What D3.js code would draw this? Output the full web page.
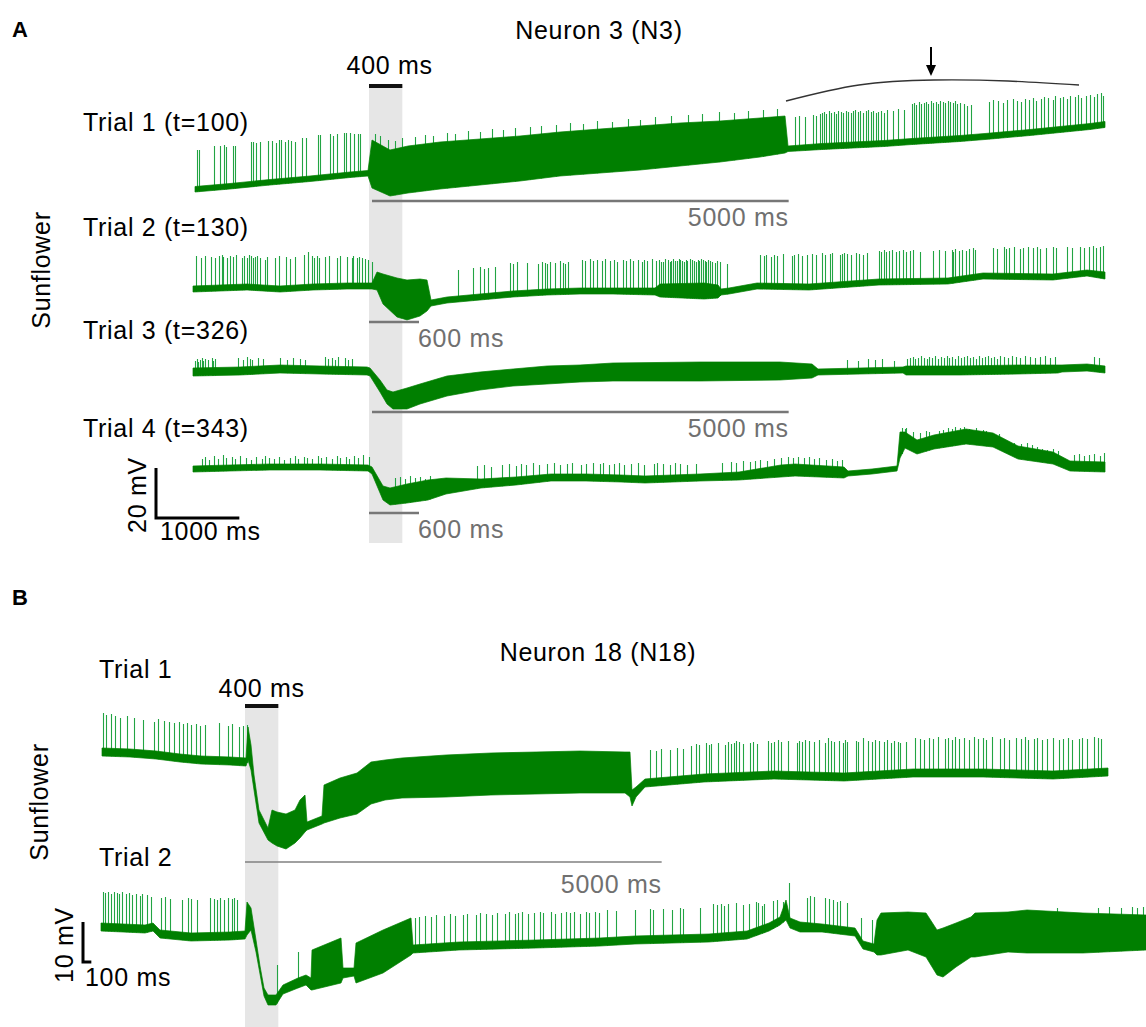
<!DOCTYPE html>
<html>
<head>
<meta charset="utf-8">
<script src="https://cdn.jsdelivr.net/npm/d3@7"></script>
<style>
  html, body { margin: 0; padding: 0; background: #fff; }
  svg text { font-family: "Liberation Sans", Arial, Helvetica, sans-serif; }
</style>
</head>
<body>
<svg id="fig" width="1146" height="1027"></svg>
<script>
// ---------------------------------------------------------------
// Data. Times in ms relative to stimulus onset, voltages in mV
// relative to the resting level at the start of each trial.
// Envelopes: [t, lower edge, upper edge of the trace band]
// Spikes:    [t, peak]
// ---------------------------------------------------------------
const stimMs = 400;

// Neuron 3 (N3)
const n3Labels = ["Trial 1 (t=100)", "Trial 2 (t=130)", "Trial 3 (t=326)", "Trial 4 (t=343)"];

const n3t1Env = [
  [-2088,-0.8,1.4],[-1668,0.4,2.6],[-1188,2,4.2],[-708,3.4,5.6],[-228,5,7.2],[-12,5.6,7.8],
  [36,0.8,20],[252,-2.4,16],[468,-1.2,17.6],[852,0.4,19.2],[1332,2,20.4],[1812,3.6,21.6],
  [2292,5.6,23.2],[2772,6.8,24.4],[3252,8,25.6],[3732,9.6,26.8],[4212,11.2,27.6],[4692,13.2,28.8],
  [4992,14.8,29.6],[5028,15.4,17.6],[5436,16.2,18.6],[6180,17.4,19.8],[6516,18.2,20.6],[7092,19.4,21.8],
  [7392,20.2,22.6],[7932,21.8,24.2],[8292,23,25.4],[8652,24.2,26.6],[8832,25,27.4]
];
const n3t1Spikes = [
  [-2064,16],[-2040,16],[-1860,17.6],[-1788,17.6],[-1740,18],[-1716,17.2],[-1632,17.6],[-1608,17.6],
  [-1416,19.2],[-1392,19.2],[-1356,18.8],[-1308,19.2],[-1212,19.6],[-1164,19.6],[-1116,18.8],[-1080,20],
  [-1056,20],[-1008,19.2],[-972,20],[-936,19.6],[-888,19.2],[-804,20.8],[-756,20.8],[-612,22],
  [-588,22],[-468,22.4],[-432,21.6],[-384,22.4],[-300,22.8],[-276,22.8],[-228,22.8],[-180,22.4],
  [-132,22.4],[-108,22.4],
  [72,22.4],[132,21.6],[228,20],[312,19.6],[396,20.8],[552,21.2],[672,22],[768,21.6],
  [936,22.8],[1032,22.4],[1188,23.6],[1332,23.2],[1476,24.4],[1608,24],[1752,24.8],[1932,25.2],
  [2064,25.6],[2244,26],[2412,26.8],[2568,26.4],[2736,27.6],[2916,27.2],[3108,28.4],[3252,28],
  [3432,29.2],[3624,29.6],[3828,30],[3996,30.4],[4200,31.2],[4380,30.8],[4548,31.6],[4728,32],
  [4896,32.4],
  [5112,29.2],[5160,29.6],[5232,29.2],[5328,30],[5364,29.6],[5412,30.4],
  [5436,30.8],[5460,31.2],[5484,30.4],[5520,31.6],[5544,30.8],[5580,31.2],[5604,30.4],[5628,31.6],
  [5664,31.2],[5688,30.8],[5724,31.6],[5748,31.2],[5784,30.8],[5808,31.6],[5832,32],[5868,31.2],
  [5892,31.6],[5928,30.8],[5964,31.6],[5988,32],[6024,31.2],[6048,31.6],[6084,30.8],[6108,31.2],
  [6144,31.6],[6180,30.8],
  [6216,32],[6288,31.6],[6348,32.4],[6420,32],
  [6516,34.4],[6540,34.8],[6564,34],[6600,35.2],[6624,34.4],[6660,34.8],[6684,35.2],[6708,34.4],
  [6744,35.6],[6768,34.8],[6804,35.2],[6828,34.4],[6852,35.6],[6888,35.2],[6912,34.8],[6948,35.6],
  [6972,35.2],[7008,34.8],[7032,35.6],[7056,34.4],[7092,34.8],
  [7140,34.4],[7176,33.6],[7224,34],[7440,35.2],[7488,36],[7548,35.6],
  [7608,34.8],[7656,36],[7728,36.4],[7776,35.6],[7824,35.2],[7872,36.4],[7920,36],[7968,36.8],
  [8004,35.6],[8064,36.4],[8100,37.2],[8148,36.8],[8208,36],[8232,37.6],[8292,36.8],[8328,37.2],
  [8376,36.4],[8412,37.6],[8472,37.2],[8508,38],[8544,36.8],[8604,37.6],[8652,38],[8700,37.2],
  [8736,38.4],[8784,38.8],[8808,37.6]
];

const n3t2Env = [
  [-2112,-0.8,1.6],[-1464,0,2.4],[-1068,-0.8,1.6],[-672,0,2.4],[-264,0.4,2.8],[36,0.4,2.8],
  [96,0,7.2],[168,-5.6,6.4],[336,-10.8,4.8],[456,-12,4],[612,-10.4,4.4],[696,-8.4,4],
  [744,-6.4,-4],[936,-5.2,-2.8],[1332,-4,-1.6],[1728,-2.8,-0.4],[2136,-2,0.4],[2532,-1.6,0.8],
  [2928,-1.6,0.8],[3432,-2,0.8],[3492,-2.8,2.4],[4020,-3.6,2.8],[4188,-3.2,2],[4224,-2,0.4],
  [4320,-1.6,0.8],[4656,0.4,2.8],[5280,0,2.4],[6120,2,4.4],[6948,2.4,4.8],[7368,4.4,6.8],
  [8208,4,6.4],[8616,5.6,8],[8832,4.4,7.2]
];
const n3t2Spikes = [
  [-2076,13.6],[-2016,12.8],[-1968,13.6],[-1896,13.2],[-1848,12.8],[-1800,13.6],[-1764,14],[-1752,13.2],
  [-1704,12.8],[-1668,13.6],[-1632,13.2],[-1596,14],[-1524,12.8],[-1500,13.6],[-1464,12.8],[-1440,14],
  [-1416,13.6],[-1392,12.8],[-1368,13.2],[-1344,13.6],[-1308,12.8],[-1248,12],[-1224,13.2],[-1128,12.8],
  [-1080,13.6],[-996,13.2],[-948,12.4],[-888,13.2],[-780,14],[-732,15.2],[-684,13.6],[-660,12.8],
  [-624,13.6],[-600,12.8],[-528,13.2],[-480,13.6],[-384,12.8],[-348,13.6],[-264,13.2],[-204,12.8],
  [-192,13.6],[-144,12.8],[-120,13.2],[-84,12.8],[-48,12.4],[-12,12],[36,11.2],
  [1068,8],[1248,8.8],[1332,9.2],[1380,8.4],[1428,8.8],[1512,9.2],[1692,10.8],[1728,10.4],
  [1776,11.2],[1896,10.8],[2028,10.4],[2076,11.2],[2112,10.8],[2136,10.4],[2172,11.2],[2232,10.8],
  [2292,11.6],[2328,10.8],[2352,10.4],[2388,11.2],[2556,12],[2592,11.6],[2652,12.4],[2688,11.6],
  [2736,12],[2796,11.6],[2832,12.4],[2892,11.6],[2940,12],[2976,11.2],[3048,12],[3084,11.6],
  [3132,12.4],[3168,11.6],[3228,12],[3276,11.2],[3300,12],[3336,11.6],[3396,12.4],[3444,11.6],
  [3480,12],[3504,11.2],[3528,11.2],[3552,12.4],[3588,12],[3612,11.2],[3624,11.6],[3648,12.4],
  [3672,11.6],[3696,11.6],[3720,12.4],[3732,12],[3756,11.6],[3780,11.2],[3804,12],[3816,11.6],
  [3852,12.4],[3876,12],[3900,11.6],[3924,11.2],[3948,12],[3960,11.6],[3984,12.4],[4008,12],
  [4032,11.6],[4044,11.2],[4068,12],[4092,11.6],[4116,11.2],[4152,10.8],[4176,11.6],
  [4212,11.2],[4296,10.4],
  [4692,14],[4740,13.6],[4764,14],[4824,13.2],[4860,14],[4896,13.6],[4968,14.4],[5076,13.6],
  [5100,14],[5148,14.4],[5196,13.6],[5256,14],[5316,14.4],[5364,14],[5436,14.8],[5472,14],
  [5532,14.4],[5556,14.8],[5652,14],[5676,14.4],[5700,14.8],[5736,14.4],[5784,14],[5844,14.8],
  [5880,14.4],[5928,14],[5976,14.8],[6120,15.6],[6144,15.2],[6180,16],[6204,15.2],[6240,15.6],
  [6276,16],[6324,15.2],[6360,15.6],[6408,16],[6444,15.2],[6492,15.6],[6528,16],[6612,15.2],
  [6768,15.6],[6840,16],[6912,15.6],[6996,16],[7008,15.2],[7032,16.4],[7080,15.6],[7116,16],
  [7164,15.6],[7200,16.4],[7248,16.8],[7272,16],[7488,16.8],[7536,16.4],[7620,17.2],[7644,16.4],
  [7680,16.8],[7740,17.2],[7812,16.4],[7848,16.8],[7908,17.2],[7968,16.8],[8016,17.2],[8052,16.4],
  [8124,16.8],[8208,17.2],[8244,16.8],[8376,17.2],[8436,16.8],[8532,17.2],[8580,16.8],[8640,17.2],
  [8688,17.6],[8724,16.8],[8772,17.2],[8808,17.6]
];

const n3t3Env = [
  [-2112,-1.6,1.6],[-1548,-1.2,2],[-1068,-0.4,2.8],[-588,-0.8,2.4],[-24,-1.2,2],[12,-1.6,1.6],
  [132,-8,-3.2],[216,-12.8,-7.2],[288,-14.8,-8],[456,-14.8,-6.4],[612,-12.8,-4.8],[936,-9.6,-1.6],
  [1332,-7.2,0],[1728,-5.6,1.2],[2136,-4.8,2.4],[2532,-4,2.8],[2928,-3.6,3.6],[3972,-3.6,4],
  [4932,-3.2,4],[5316,-2.4,3.2],[5388,-1.2,1.2],[5892,-0.8,1.6],[6408,-0.4,2],[6444,-1.2,2.4],
  [7092,-1.2,2.4],[7788,-0.8,2.8],[8268,-0.4,2.8],[8316,0,2.8],[8616,0.4,3.2],[8832,-0.4,2.4]
];
const n3t3Spikes = [
  [-2088,4.4],[-2064,5.2],[-2052,4],[-2028,4.8],[-2004,5.6],[-1992,4.4],[-1968,5.2],[-1932,4.8],
  [-1884,5.6],[-1872,4.4],[-1848,5.2],[-1572,5.6],[-1512,4.8],[-1464,6],[-1428,5.2],[-1404,4.8],
  [-1332,5.6],[-1272,5.2],[-1068,5.6],[-984,4.8],[-912,5.6],[-828,5.2],[-768,4.8],[-528,6],
  [-492,5.2],[-444,5.6],[-408,4.8],[-372,6],[-288,5.6],[-252,4.8],[-204,5.2],
  [5736,4.8],[5868,4.4],[5988,5.2],[6072,4.8],[6156,5.2],[6300,4.4],
  [6456,5.2],[6492,5.6],[6528,6],[6552,5.2],[6588,5.6],[6624,6.4],[6660,5.6],[6696,5.2],
  [6720,6],[6756,5.6],[6792,6.4],[6828,5.2],[6864,6],[6900,5.6],[6936,6.4],[6960,5.6],
  [6996,6],[7032,5.2],[7068,6.4],[7104,5.6],[7140,6],[7176,6.4],[7212,5.6],[7248,6],
  [7284,5.2],[7320,6.4],[7356,5.6],[7392,6],[7428,6.4],[7464,5.6],[7500,6],[7536,5.2],
  [7572,6.4],[7620,6],[7668,5.6],[7716,6.4],[7764,6],[7812,5.6],[7872,6.4],[7932,6],
  [7992,5.6],[8052,6],[8112,6.4],[8172,5.6],[8232,6],
  [8700,6],[8760,5.6]
];

const n3t4Env = [
  [-2112,-0.8,1.6],[-1668,-0.4,2],[-1188,0,2.4],[-588,0,2.4],[-12,-0.4,2],[36,-1.6,1.2],
  [168,-12,-6.4],[252,-14,-7.2],[456,-13.2,-5.6],[708,-12,-4],[924,-9.6,-3.2],[1344,-7.2,-3.6],
  [1764,-6,-2.8],[2184,-4.4,-1.6],[2604,-4.4,-1.6],[3024,-4.8,-2],[3312,-5.2,-2.4],[3972,-4.4,-1.6],
  [4440,-4,-0.8],[4944,-2.8,2],[5112,-2.4,2.4],[5700,-3.2,1.2],[5748,-2.4,-0.4],[6036,-1.6,0.4],
  [6336,-0.4,1.6],[6372,4.8,15.2],[6432,8.8,15.2],[6576,6.4,12],[6780,8.4,14],[7164,10.4,16.4],
  [7488,9.2,14.8],[7788,4.4,9.6],[8208,2.4,7.2],[8412,-0.4,3.6],[8832,-0.8,3.2]
];
const n3t4Spikes = [
  [-2004,4.4],[-1968,5.2],[-1920,4],[-1860,5.6],[-1812,4.4],[-1752,6],[-1716,4.8],[-1644,5.2],
  [-1608,4.4],[-1548,5.6],[-1476,4.8],[-1416,4],[-1356,5.2],[-1284,4.4],[-1248,5.6],[-1200,4.8],
  [-1140,4.4],[-1080,5.2],[-1020,4],[-948,4.8],[-888,5.6],[-852,4.4],[-780,5.2],[-744,4.8],
  [-684,4.4],[-612,5.6],[-576,4.8],[-516,5.2],[-444,4.4],[-384,5.6],[-348,4.8],[-276,5.2],
  [-240,4.4],[-180,5.6],[-132,4.8],[-72,6],[0,5.2],
  [312,-3.2],[372,-2.8],[432,-3.6],[492,-2.4],[552,-3.2],[612,-2.8],[672,-3.6],[732,-2.4],
  [1296,1.6],[1380,2],[1464,1.2],[1596,2],[1680,2.4],[1764,1.6],[1824,2.4],[1884,2],
  [1968,2.8],[2040,2],[2136,2.4],[2220,2.8],[2292,2],[2376,2.4],[2436,2.8],[2544,2],
  [2604,2.4],[2688,2.8],[2772,2.4],[2808,2.8],[2880,2],[2940,2.4],[3000,2.8],[3060,2],
  [3144,2.4],[3228,2.8],[3300,2],[3420,2.4],[3456,2.8],[3528,2.4],[3612,2],[3672,2.8],
  [3732,2.4],[3816,2],[3924,2.4],[4236,2.8],[4344,3.2],[4404,2.8],[4488,3.6],[4572,3.2],
  [4632,3.6],[4692,4],[4776,3.6],[4860,4.4],[4944,4.8],[5028,5.2],[5088,4.8],[5148,5.2],
  [5220,4.8],[5280,5.2],[5340,4.4],[5400,4.8],[5484,4],[5556,4.4],[5616,3.6],[5676,4],
  [6396,16.8],[6432,16.4],[6444,16.8],[6528,15.2],[6612,14.8],[6684,15.6],[6720,15.2],[6840,15.6],
  [6888,16],[6948,16.8],[6996,16.4],[7032,17.2],[7092,16.8],[7140,17.2],[7200,16.4],[7284,16.8],
  [7368,16],[7404,15.6],[7476,14.8],[7560,14.4],[7620,12],[7680,11.2],[7740,10.8],[7824,10.4],
  [7896,10.8],[7956,10],[8016,9.2],[8076,8.4],[8136,8],[8208,8.4],[8268,7.6],[8460,6],
  [8520,6.4],[8580,5.6],[8640,6],[8700,6.4],[8772,5.6],[8820,6.8]
];

// Gray duration bars under N3 trials: [trial index, start ms, duration ms]
const n3DurBars = [[0, 36, 5000], [1, 0, 600], [2, 36, 5000], [3, 0, 600]];
const n3DurLabels = ["5000 ms", "600 ms", "5000 ms", "600 ms"];

// Bracket over the late part of trial 1 and the arrow above it: [t, mV]
const n3Bracket = [[5004,35.6],[5880,42],[6780,44],[7668,43.6],[8520,42]];
const n3Arrow = [[6744,57.2],[6744,45.6]];

// Neuron 18 (N18)
const n18Labels = ["Trial 1", "Trial 2"];

const n18t1Env = [
  [-1716,-1,1],[-1380,-1.25,0.75],[-1068,-1.75,0.25],[-780,-2.5,-0.5],[-528,-3,-1],[-180,-3.25,-1.25],
  [12,-3.5,-1.5],[36,-2,6.25],[72,-4.5,1.75],[108,-9.5,-5.75],[168,-17.75,-14.5],[276,-22,-19],
  [324,-22.75,-14.5],[384,-23.5,-15],[492,-24.25,-15.5],[600,-22.75,-14.5],[660,-21.5,-12],
  [720,-20,-10.75],[744,-19.5,-17.5],[924,-18,-16],[948,-17.75,-8.25],[1140,-16.5,-6.5],
  [1344,-15.5,-5.25],[1512,-13,-2.5],[1680,-12,-2],[1884,-11.5,-1.5],[2412,-11.25,-0.75],
  [2952,-10.75,-0.25],[3492,-10.5,0],[4020,-10.25,0.25],[4560,-10.25,0],[4620,-11.25,0],
  [4644,-13.5,-9.5],[4692,-11.25,-8.75],[4800,-8.75,-6.75],[5508,-7.5,-5.5],[6348,-6.75,-4.75],
  [7188,-7.25,-5.25],[8016,-6.25,-4.25],[8856,-6.25,-4.25],[9696,-6.75,-4.75],[10356,-6,-4]
];
const n18t1Spikes = [
  [-1704,9.75],[-1668,9.25],[-1608,9.5],[-1560,9],[-1500,8.5],[-1416,9],[-1332,8.5],[-1224,8],
  [-1092,7.5],[-1044,8.25],[-972,7.75],[-912,7.5],[-852,7.25],[-792,7.5],[-744,7],[-696,7.25],
  [-648,6.75],[-588,7],[-540,6.5],[-480,6.75],[-312,7.25],[-204,6.5],[-156,7],[-72,6.25],
  [-24,6.5],[24,6.75],
  [4860,0.5],[4932,0.25],[4992,0.75],[5100,0.5],[5184,1],[5256,0.75],[5352,1.5],[5412,2],
  [5448,1.75],[5532,2.25],[5568,1.75],[5592,2],[5676,2.25],[5760,1.75],[5796,2.5],[5832,2],
  [5868,2.25],[5892,2.75],[5928,2.5],[5976,2],[6060,2.25],[6096,2.5],[6144,2],[6276,2.75],
  [6312,2.25],[6348,2.5],[6396,3],[6432,2.5],[6516,2.75],[6624,2.25],[6648,2.75],[6684,2.5],
  [6720,3],[6768,2.75],[6828,2.5],[6888,3],[6960,2.25],[6996,3.5],[7032,2.75],[7068,2.5],
  [7128,2.75],[7176,2.25],[7200,3],[7224,2.5],[7332,2.75],[7356,2.5],[7416,3.5],[7476,2.75],
  [7524,2.5],[7560,3],[7608,2.75],[7668,2.5],[7704,3],[7752,2.25],[7788,2.75],[7836,2.5],
  [7860,2.25],[7932,2.5],[8040,3.5],[8100,3.25],[8148,3],[8208,3.5],[8256,3.25],[8316,3.75],
  [8400,3.25],[8436,3.5],[8484,3],[8520,3.75],[8568,3.25],[8628,3.5],[8688,3],[8748,3.75],
  [8796,3.25],[8856,3.5],[8892,3],[8964,3.75],[9060,3.25],[9108,3.5],[9168,3],[9252,3.5],
  [9312,3.25],[9360,3.75],[9396,3],[9468,3.25],[9504,3.5],[9564,3],[9624,3.25],[9696,3.5],
  [9768,3],[9816,3.25],[9876,3.5],[9924,3],[10008,3.25],[10044,3.5],[10104,3.25],[10188,3.75],
  [10236,3.5],[10272,3.25]
];

const n18t2Env = [
  [-1728,-0.75,1.25],[-1200,-1.25,0.75],[-1104,-0.75,1.25],[-1020,-2.5,-0.5],[-648,-3.25,-1.25],
  [-180,-3,-1],[0,-2.75,-0.75],[24,-1.75,6.5],[72,-0.5,5],[132,-6,-3],[180,-11.5,-9.5],
  [228,-17,-15],[276,-19.25,-16.75],[372,-19.25,-16.75],[456,-16.5,-14.25],[636,-15,-12.5],
  [732,-14.25,-11.75],[792,-15.5,-12.5],[804,-15.5,-5.5],[1152,-13.75,-2.5],[1176,-12.5,-10],
  [1308,-12,-10],[1332,-13.75,-3.75],[1656,-11.25,-0.5],[1992,-6.75,2.5],[2016,-6.25,-4.25],
  [2568,-5.5,-3.5],[3492,-5,-3],[4260,-4.5,-2.5],[4680,-4,-2],[5568,-3.5,-1.5],[6024,-2.75,-0.75],
  [6288,-0.75,1.25],[6420,0.75,2.75],[6492,2,7],[6540,0,2.5],[6660,-1,1.5],[6924,-1,1],
  [7320,-2,0],[7416,-5.25,-3.25],[7548,-6,-4],[7584,-6.75,2],[7632,-6.75,3.75],[7956,-5.5,4],
  [8172,-7.25,3.75],[8304,-11.75,-0.5],[8376,-12.25,0],[8532,-9.75,1.25],[8712,-7.25,2.75],
  [8760,-7.25,3.75],[9156,-6,4],[9384,-6.25,4.5],[10056,-6.25,3.75],[10812,-5.5,3.25]
];
const n18t2Spikes = [
  [-1704,9],[-1680,8.75],[-1644,9],[-1608,8.5],[-1572,9],[-1536,8.75],[-1512,8.5],[-1476,9],
  [-1428,8.5],[-1392,8.75],[-1356,8.25],[-1308,8.5],[-1260,8],[-1236,8.5],[-1176,8.25],[-1128,7.75],
  [-1008,7.5],[-960,7.75],[-900,7.25],[-756,7],[-684,7.5],[-648,7.25],[-576,7],[-420,7.5],
  [-372,7.25],[-336,7],[-300,7.5],[-252,7],[-204,7.5],[-156,7.25],[-132,7.5],[-96,7],
  [384,-9.25],[636,-6],
  [2040,2.5],[2088,2.75],[2160,3],[2232,2.75],[2292,3.25],[2388,3],[2460,3.5],[2520,3],
  [2616,3.25],[2664,3.5],[2772,3.25],[2820,3.75],[2892,3.5],[2964,3.25],[3024,3.75],[3120,3.5],
  [3168,4],[3240,3.5],[3276,3.75],[3324,4],[3396,3.5],[3468,3.75],[3540,4],[3576,3.75],
  [3672,4],[3720,3.5],[3792,3.75],[3852,4],[3900,3.75],[3948,4],[4020,3.5],[4092,4],
  [4128,3.75],[4200,4],[4248,3.75],[4344,4.5],[4452,4.25],[4680,4.5],[4860,4.75],[4896,4.5],
  [5016,4.75],[5124,4.5],[5220,5],[5256,4.75],[5460,5],[5616,6],[5664,5.75],[5712,6],
  [5748,5.5],[5796,6],[5892,6.25],[5976,5.75],[6048,6],[6132,6.5],[6156,6.25],[6204,5.5],
  [6228,6],[6336,6.75],[6384,7],[6456,6.5],[6528,11.25],[6744,7.5],[6780,8],[6828,7.75],
  [6960,7.5],[7008,7.25],[7056,7],[7104,6.5],[7140,6.75],[7224,6.25],[7392,2.5],[7524,2],
  [9744,5],[10236,5],[10368,5.25],[10512,5],[10644,5.25],[10704,5],[10776,5.25]
];
const n18DurBar = [0, 5000];
const n18DurLabel = "5000 ms";

// Scale bars
const scaleBarA = { ms: 1000, mV: 20 };
const scaleBarB = { ms: 100, mV: 10 };

// ---------------------------------------------------------------
// Drawing
// ---------------------------------------------------------------
const svg = d3.select("#fig");
const GREEN = "#007f00";
const SPIKE = "#22a443";
const FONT = 25;

// Time axes (12 ms per pixel in both panels)
const xA = d3.scaleLinear().domain([-2112, 8832]).range([193, 1105]);
const xB = d3.scaleLinear().domain([-1740, 10812]).range([100, 1146]);

// Vertical placement of each trial (pixel row of 0 mV) and gain
const rowsA = [190, 290, 372, 470];
const rowsB = [752, 928];
const pxPerMvA = 2.5, pxPerMvB = 4;
const yRow = (base, gain) => d3.scaleLinear().domain([0, 10]).range([base, base - 10 * gain]);
const yA = rowsA.map(r => yRow(r, pxPerMvA));
const yB = rowsB.map(r => yRow(r, pxPerMvB));

function txt(g, x, y, s, opts = {}) {
  const t = g.append("text")
    .attr("x", x).attr("y", y)
    .attr("font-size", opts.size || FONT)
    .attr("letter-spacing", opts.spacing == null ? 0.7 : opts.spacing)
    .attr("fill", opts.fill || "#000")
    .attr("text-anchor", opts.anchor || "start")
    .attr("dominant-baseline", "central")
    .text(s);
  if (opts.bold) t.attr("font-weight", "bold");
  if (opts.rotate) t.attr("transform", `rotate(-90 ${x} ${y})`);
  return t;
}

function drawTrace(g, x, y, env, spikes) {
  const lowerAt = d3.scaleLinear()
    .domain(env.map(d => d[0]))
    .range(env.map(d => d[1]))
    .clamp(true);
  g.append("g")
    .selectAll("line").data(spikes).join("line")
    .attr("x1", d => Math.round(x(d[0])) + 0.5).attr("x2", d => Math.round(x(d[0])) + 0.5)
    .attr("y1", d => y(lowerAt(d[0]))).attr("y2", d => y(d[1]))
    .attr("stroke", SPIKE).attr("stroke-width", 1.1);
  const band = d3.area()
    .x(d => x(d[0])).y0(d => y(d[1])).y1(d => y(d[2]));
  g.append("path").attr("d", band(env))
    .attr("fill", GREEN).attr("stroke", GREEN)
    .attr("stroke-width", 0.7).attr("stroke-linejoin", "round");
}

// ---------------- Panel A ----------------
const gA = svg.append("g");

// stimulus window
gA.append("rect")
  .attr("x", xA(0)).attr("width", xA(stimMs) - xA(0))
  .attr("y", 86).attr("height", 543 - 86)
  .attr("fill", "#e6e6e6");
gA.append("line")
  .attr("x1", xA(0)).attr("x2", xA(stimMs))
  .attr("y1", 86).attr("y2", 86)
  .attr("stroke", "#111").attr("stroke-width", 4);
txt(gA, (xA(0) + xA(stimMs)) / 2 + 4, 65, `${stimMs} ms`, { anchor: "middle" });

txt(gA, 12, 29, "A", { bold: true, size: 22, spacing: 0 });
txt(gA, 599, 30, "Neuron 3 (N3)", { anchor: "middle" });
txt(gA, 41, 270, "Sunflower", { rotate: true, anchor: "middle" });

const n3Env = [n3t1Env, n3t2Env, n3t3Env, n3t4Env];
const n3Spk = [n3t1Spikes, n3t2Spikes, n3t3Spikes, n3t4Spikes];
const labelYA = [122, 227, 330, 428];
n3Env.forEach((env, i) => {
  drawTrace(gA, xA, yA[i], env, n3Spk[i]);
  txt(gA, 83, labelYA[i], n3Labels[i]);
});

// duration bars
const durBarYA = [201, 322, 412, 513];
n3DurBars.forEach(([row, start, dur], i) => {
  const x0 = xA(start), x1 = xA(start + dur), yb = durBarYA[row];
  gA.append("line").attr("x1", x0).attr("x2", x1).attr("y1", yb).attr("y2", yb)
    .attr("stroke", "#777").attr("stroke-width", 2.5);
  if (dur >= 1000) txt(gA, x1, yb + 16, n3DurLabels[i], { anchor: "end", fill: "#707070" });
  else txt(gA, x1 - 1, yb + 16, n3DurLabels[i], { fill: "#707070" });
});

// bracket and arrow over trial 1
gA.append("path")
  .attr("d", d3.line().x(d => xA(d[0])).y(d => yA[0](d[1])).curve(d3.curveNatural)(n3Bracket))
  .attr("fill", "none").attr("stroke", "#333").attr("stroke-width", 1.4);
const ax = xA(n3Arrow[0][0]), ay0 = yA[0](n3Arrow[0][1]), ay1 = yA[0](n3Arrow[1][1]);
gA.append("line").attr("x1", ax).attr("x2", ax).attr("y1", ay0).attr("y2", ay1 - 9)
  .attr("stroke", "#000").attr("stroke-width", 2);
gA.append("path")
  .attr("d", `M${ax - 5},${ay1 - 11} L${ax + 5},${ay1 - 11} L${ax},${ay1} Z`)
  .attr("fill", "#000");

// scale bar A
{
  const cx = 156, cy = 518;
  const w = xA(scaleBarA.ms) - xA(0);
  const h = yA[0](0) - yA[0](scaleBarA.mV);
  gA.append("path").attr("d", `M${cx},${cy - h} L${cx},${cy} L${cx + w},${cy}`)
    .attr("fill", "none").attr("stroke", "#000").attr("stroke-width", 3);
  txt(gA, 137, 495, `${scaleBarA.mV} mV`, { rotate: true, anchor: "middle" });
  txt(gA, 160, 531, `${scaleBarA.ms} ms`);
}

// ---------------- Panel B ----------------
const gB = svg.append("g");
gB.append("rect")
  .attr("x", xB(0)).attr("width", xB(stimMs) - xB(0))
  .attr("y", 706).attr("height", 1027 - 706)
  .attr("fill", "#e6e6e6");
gB.append("line")
  .attr("x1", xB(0)).attr("x2", xB(stimMs))
  .attr("y1", 706).attr("y2", 706)
  .attr("stroke", "#111").attr("stroke-width", 4);
txt(gB, (xB(0) + xB(stimMs)) / 2, 688, `${stimMs} ms`, { anchor: "middle" });

txt(gB, 12, 597, "B", { bold: true, size: 22, spacing: 0 });
txt(gB, 598, 652, "Neuron 18 (N18)", { anchor: "middle" });
txt(gB, 39, 802, "Sunflower", { rotate: true, anchor: "middle" });

const n18Env = [n18t1Env, n18t2Env];
const n18Spk = [n18t1Spikes, n18t2Spikes];
const labelYB = [669, 857];
n18Env.forEach((env, i) => {
  drawTrace(gB, xB, yB[i], env, n18Spk[i]);
  txt(gB, 99, labelYB[i], n18Labels[i]);
});

{
  const x0 = xB(n18DurBar[0]), x1 = xB(n18DurBar[0] + n18DurBar[1]), yb = 862;
  gB.append("line").attr("x1", x0).attr("x2", x1).attr("y1", yb).attr("y2", yb)
    .attr("stroke", "#808080").attr("stroke-width", 1.6);
  txt(gB, x1, 884, n18DurLabel, { anchor: "end", fill: "#707070" });
}

// scale bar B
{
  const cx = 83, cy = 962;
  const w = xB(scaleBarB.ms) - xB(0);
  const h = yB[0](0) - yB[0](scaleBarB.mV);
  gB.append("path").attr("d", `M${cx},${cy - h} L${cx},${cy} L${cx + w},${cy}`)
    .attr("fill", "none").attr("stroke", "#000").attr("stroke-width", 3);
  txt(gB, 64, 945, `${scaleBarB.mV} mV`, { rotate: true, anchor: "middle" });
  txt(gB, 85, 977, `${scaleBarB.ms} ms`);
}
</script>
</body>
</html>
